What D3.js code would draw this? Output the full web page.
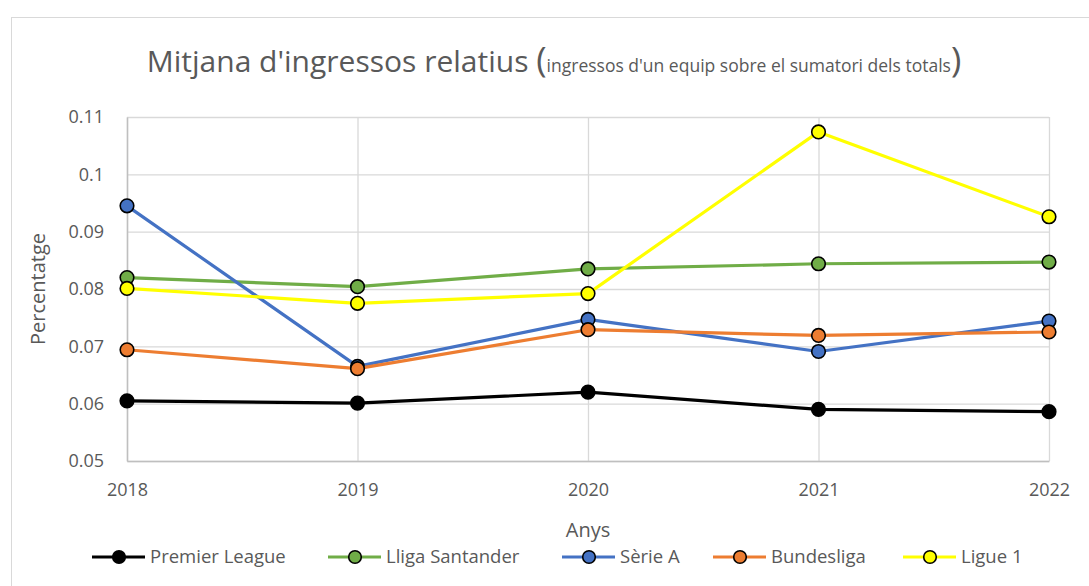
<!DOCTYPE html>
<html>
<head>
<meta charset="utf-8">
<script src="https://cdn.jsdelivr.net/npm/d3@7"></script>
<style>
  body { margin: 0; background: #fff; }
  svg { display: block; font-family: 'Open Sans', sans-serif; }
</style>
</head>
<body>
<svg id="chart" width="1089" height="586"></svg>
<script>
// chart values
const years = [2018, 2019, 2020, 2021, 2022];
const premierLeague = [0.0605, 0.0601, 0.0620, 0.0590, 0.0586];
const lligaSantander = [0.0820, 0.0804, 0.0835, 0.0844, 0.0847];
const serieA = [0.0945, 0.0665, 0.0747, 0.0691, 0.0744];
const bundesliga = [0.0694, 0.0661, 0.0729, 0.0719, 0.0725];
const ligue1 = [0.0801, 0.0775, 0.0792, 0.1074, 0.0926];
const yTicks = [0.05, 0.06, 0.07, 0.08, 0.09, 0.1, 0.11];

const series = [
    { name: 'Premier League', values: premierLeague, color: '#000000', fill: '#000000' },
    { name: 'Lliga Santander', values: lligaSantander, color: '#70ad47', fill: '#70ad47' },
    { name: 'Sèrie A', values: serieA, color: '#4472c4', fill: '#4472c4' },
    { name: 'Bundesliga', values: bundesliga, color: '#ed7d31', fill: '#ed7d31' },
    { name: 'Ligue 1', values: ligue1, color: '#ffff00', fill: '#ffff00' },
];

const textColor = '#595959';
const svg = d3.select('#chart');

// outer chart border (runs off the right and bottom edge)
svg.append('rect')
    .attr('x', 11.5).attr('y', 17.5)
    .attr('width', 1100).attr('height', 600)
    .attr('fill', 'none')
    .attr('stroke', '#d9d9d9');

const plot = { left: 127, right: 1049, top: 117, bottom: 461 };

const x = d3.scalePoint()
    .domain(years)
    .range([plot.left, plot.right]);

const y = d3.scaleLinear()
    .domain([0.05, 0.11])
    .range([plot.bottom, plot.top]);

// horizontal gridlines
svg.append('g')
    .attr('transform', `translate(${plot.left},0)`)
    .call(d3.axisLeft(y).tickValues(yTicks).tickSize(-(plot.right - plot.left)).tickFormat(''))
    .call((g) => g.select('.domain').remove())
    .call((g) => g.selectAll('line').attr('stroke', '#d9d9d9').attr('stroke-width', 1.3));

// vertical gridlines
svg.append('g')
    .attr('transform', `translate(0,${plot.top})`)
    .call(d3.axisBottom(x).tickSize(plot.bottom - plot.top).tickFormat(''))
    .call((g) => g.select('.domain').remove())
    .call((g) => g.selectAll('line').attr('stroke', '#d9d9d9').attr('stroke-width', 1.3));

// y axis labels
const yAxis = svg.append('g')
    .attr('transform', `translate(${plot.left},0)`)
    .call(d3.axisLeft(y).tickValues(yTicks).tickSize(0).tickPadding(23).tickFormat(d3.format('')));
yAxis.select('.domain').attr('stroke', '#bfbfbf').attr('stroke-width', 1.5);
yAxis.selectAll('text')
    .attr('fill', textColor)
    .style('font-size', '18px')
    .style('font-family', "'Open Sans', sans-serif");

// x axis labels
const xAxis = svg.append('g')
    .attr('transform', `translate(0,${plot.bottom})`)
    .call(d3.axisBottom(x).tickSize(0).tickPadding(22));
xAxis.select('.domain').attr('stroke', '#bfbfbf').attr('stroke-width', 1.5);
xAxis.selectAll('text')
    .attr('fill', textColor)
    .style('font-size', '18px')
    .style('font-family', "'Open Sans', sans-serif");

// lines and markers
const line = d3.line()
    .x((d, i) => x(years[i]))
    .y((d) => y(d));

series.forEach((s) => {
    const g = svg.append('g');
    g.append('path')
        .attr('d', line(s.values))
        .attr('fill', 'none')
        .attr('stroke', s.color)
        .attr('stroke-width', 3.2)
        .attr('stroke-linejoin', 'round');
    g.selectAll('circle')
        .data(s.values)
        .join('circle')
        .attr('cx', (d, i) => x(years[i]))
        .attr('cy', (d) => y(d))
        .attr('r', 6.8)
        .attr('fill', s.fill)
        .attr('stroke', '#000')
        .attr('stroke-width', 1.6);
});

// title
const title = svg.append('text')
    .attr('x', 554)
    .attr('y', 72)
    .attr('text-anchor', 'middle')
    .attr('fill', textColor);
title.append('tspan').style('font-size', '30px').text("Mitjana d'ingressos relatius ");
title.append('tspan').style('font-size', '35px').text('(');
title.append('tspan').style('font-size', '17.5px').text("ingressos d'un equip sobre el sumatori dels totals");
title.append('tspan').style('font-size', '35px').text(')');

// axis titles
svg.append('text')
    .attr('x', x(2020))
    .attr('y', 537)
    .attr('text-anchor', 'middle')
    .attr('fill', textColor)
    .style('font-size', '20px')
    .text('Anys');

svg.append('text')
    .attr('transform', `translate(45,${(plot.top + plot.bottom) / 2}) rotate(-90)`)
    .attr('text-anchor', 'middle')
    .attr('fill', textColor)
    .style('font-size', '20px')
    .text('Percentatge');

// legend
const legendX = [92, 328, 562, 713, 903];
const legendY = 557;
const legend = svg.append('g');
series.forEach((s, i) => {
    const g = legend.append('g').attr('transform', `translate(${legendX[i]},${legendY})`);
    g.append('line')
        .attr('x1', 0).attr('x2', 53)
        .attr('stroke', s.color)
        .attr('stroke-width', 3.2);
    g.append('circle')
        .attr('cx', 27).attr('r', 6.3)
        .attr('fill', s.fill)
        .attr('stroke', '#000')
        .attr('stroke-width', 1.6);
    g.append('text')
        .attr('x', 58)
        .attr('dy', '0.35em')
        .attr('fill', textColor)
        .style('font-size', '18.5px')
        .text(s.name);
});
</script>
</body>
</html>
